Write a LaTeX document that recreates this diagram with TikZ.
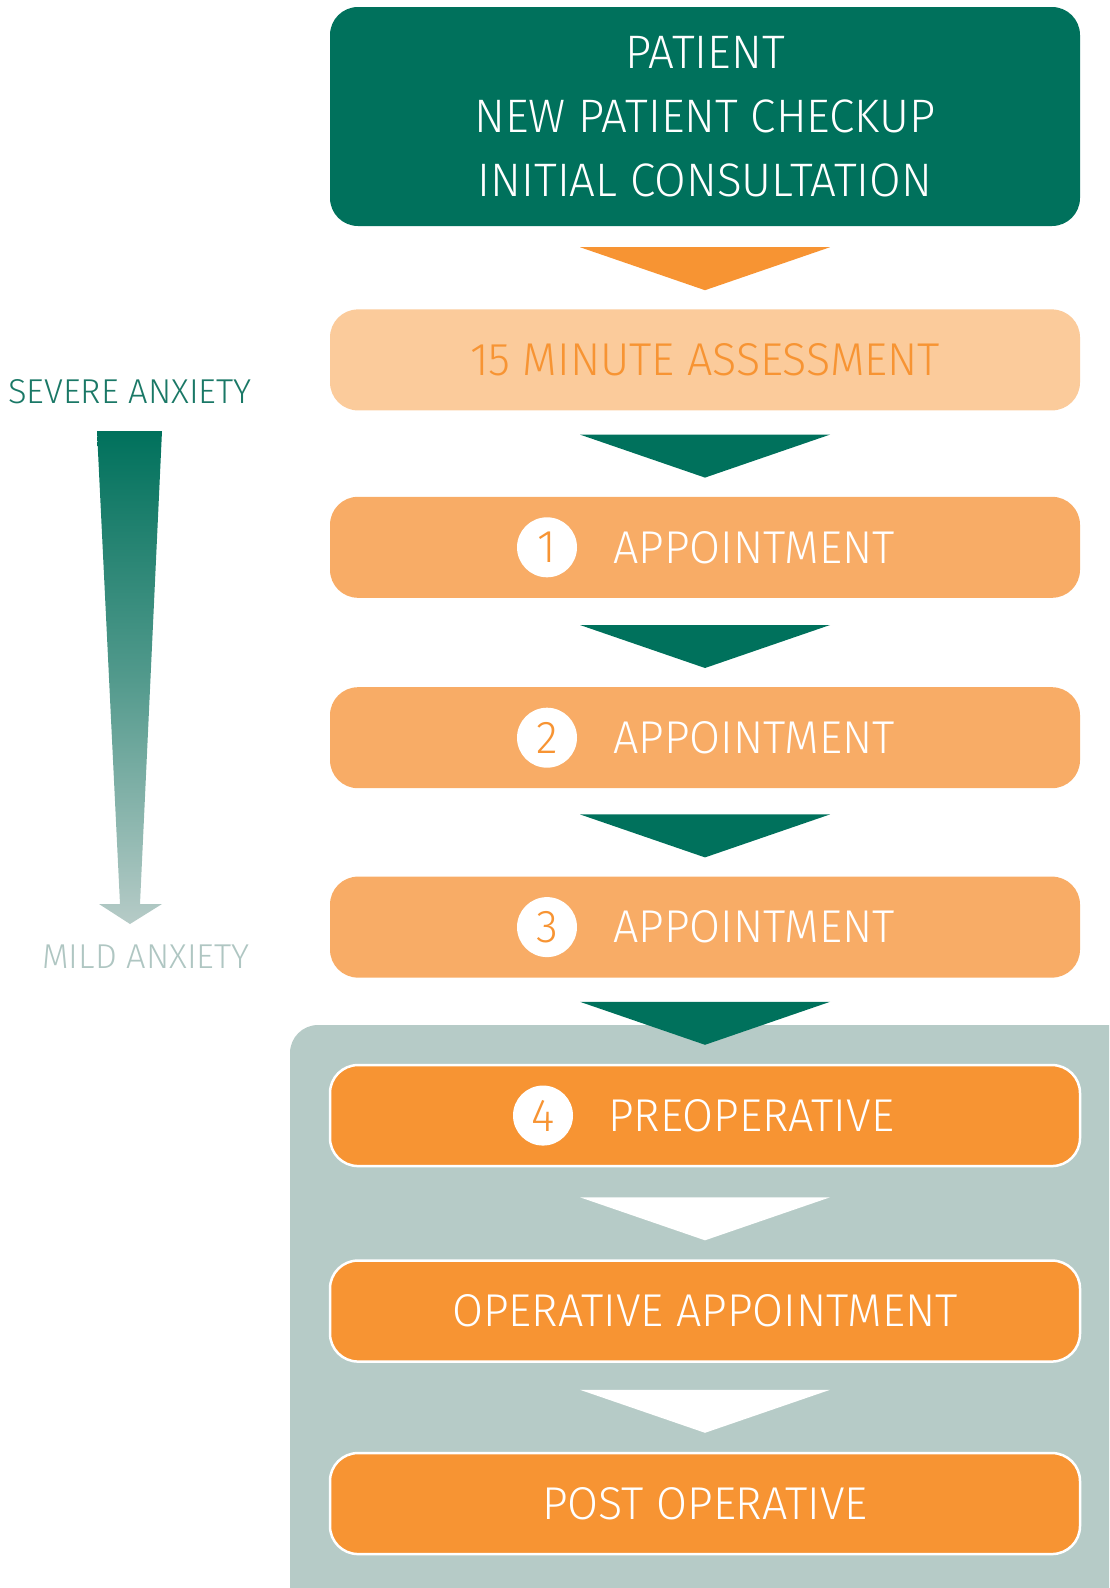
\documentclass[tikz,border=0pt]{standalone}
\usepackage{fontspec}
\setmainfont{Fira Sans Light}
\newfontfamily\narrowfont{Fira Sans Light}[FakeStretch=0.975]
\usetikzlibrary{positioning,calc}
\definecolor{pinegreen}{HTML}{00715C}
\definecolor{peach}{HTML}{FBCB9B}
\definecolor{softorange}{HTML}{F8AC66}
\definecolor{deeporange}{HTML}{F79433}
\definecolor{sage}{HTML}{B6CBC7}
\definecolor{severegreen}{HTML}{1A7866}
\definecolor{mildgrey}{HTML}{AFC6C2}
\tikzset{
  stage/.style={rounded corners=28pt, minimum width=750pt, minimum height=101pt,
    inner sep=0pt, font=\narrowfont\fontsize{46}{50}\selectfont},
  apptbox/.style={stage, fill=softorange, text=white},
  framed/.style={stage, fill=deeporange, draw=white, line width=2.5pt, text=white},
  numdot/.style={circle, fill=white, minimum size=60pt, inner sep=0pt,
    text=deeporange, font=\narrowfont\fontsize{46}{50}\selectfont},
  steptext/.style={anchor=west, text=white, inner sep=0pt,
    font=\narrowfont\fontsize{46}{50}\selectfont},
  sidelabel/.style={font=\fontsize{34.5}{38}\selectfont, inner sep=0pt},
}

\begin{document}
\begin{tikzpicture}[x=1pt, y=-1pt]
  \clip (0,0) rectangle (1109,1588);
  % grey panel behind the last three steps
  \fill[sage, rounded corners=28pt] (290,1025) rectangle (1150,1630);

  \node[stage, fill=pinegreen, text=white, minimum height=219pt, align=center,
    font=\narrowfont\fontsize{47}{64}\selectfont] (top) at (705,116.5)
    {PATIENT\\NEW PATIENT CHECKUP\\INITIAL CONSULTATION};
  \node[stage, fill=peach, text=deeporange] (assess) [below=83pt of top] {15 MINUTE ASSESSMENT};

  \node[apptbox] (a1) [below=86pt of assess] {};
  \node[numdot] (n1) at ($(a1.center)+(-158pt,0)$) {1};
  \node[steptext] (t1) at ($(a1.center)+(-92pt,0)$) {APPOINTMENT};

  \node[apptbox] (a2) [below=89pt of a1] {};
  \node[numdot] (n2) at ($(a2.center)+(-158pt,0)$) {2};
  \node[steptext] (t2) at ($(a2.center)+(-92pt,0)$) {APPOINTMENT};

  \node[apptbox] (a3) [below=88pt of a2] {};
  \node[numdot] (n3) at ($(a3.center)+(-158pt,0)$) {3};
  \node[steptext] (t3) at ($(a3.center)+(-92pt,0)$) {APPOINTMENT};

  \node[framed] (pre) [below=86pt of a3] {};
  \node[numdot] (n4) at ($(pre.center)+(-162pt,0)$) {4};
  \node[steptext] (t4) at ($(pre.center)+(-97pt,0)$) {PREOPERATIVE};

  \node[framed] (op) [below=92pt of pre] {OPERATIVE APPOINTMENT};
  \node[framed] (post) [below=89pt of op] {POST OPERATIVE};

  % chevrons between the steps
  \foreach \nd/\col in {assess/deeporange, a1/pinegreen, a2/pinegreen, a3/pinegreen,
      pre/pinegreen, op/white, post/white}
    \fill[\col] ($(\nd.north)+(-125pt,62pt)$) -- ($(\nd.north)+(125pt,62pt)$)
      -- ($(\nd.north)+(0,19pt)$) -- cycle;

  % anxiety scale
  \node[sidelabel, text=severegreen, anchor=west] (severe) at (8,392) {SEVERE ANXIETY};
  \node[sidelabel, text=mildgrey] (mild) at (146,957) {MILD ANXIETY};
  \shade[top color=pinegreen, bottom color=sage, middle color=pinegreen!55!sage]
    (97,431) -- (162,431) -- (140,904) -- (162,904) -- (130,924)
    -- (99,904) -- (120,904) -- cycle;
\end{tikzpicture}
\end{document}
